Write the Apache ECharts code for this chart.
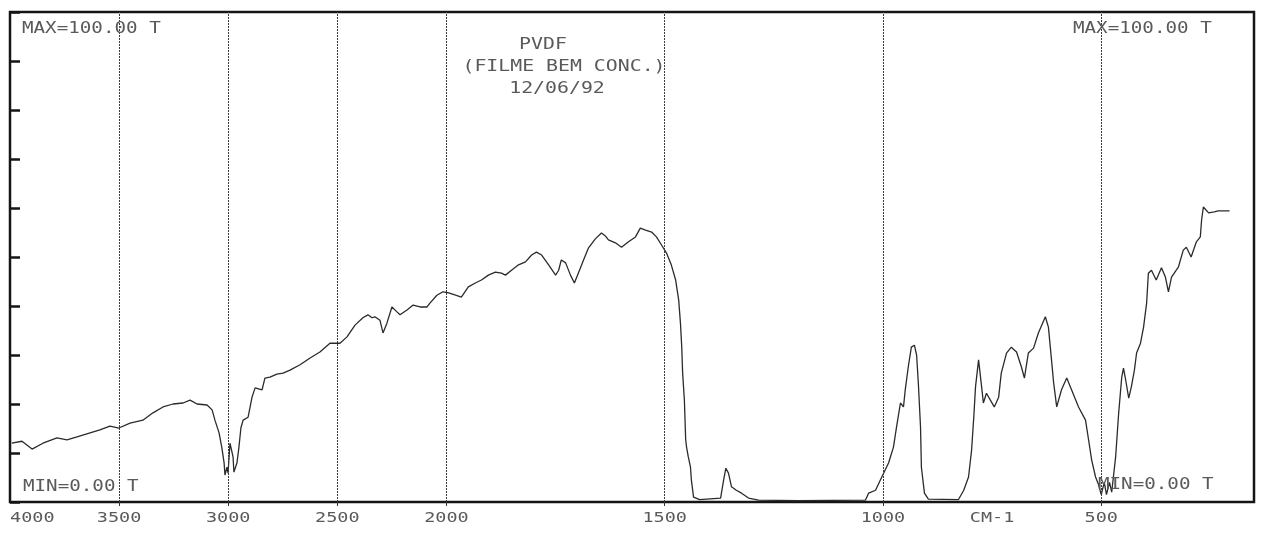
<!DOCTYPE html>
<html>
<head>
<meta charset="utf-8">
<script src="https://cdn.jsdelivr.net/npm/echarts@6/dist/echarts.min.js"></script>
<style>
  html, body { margin: 0; padding: 0; background: #fff; }
  #chart { width: 1261px; height: 535px; }
</style>
</head>
<body>
<div id="chart"></div>
<script>
// PVDF film, IR transmission spectrum (%T against wavenumber, cm-1)
const wavenumbers = [
  3992, 3986, 3945, 3899, 3849, 3785, 3739, 3693, 3633, 3588, 3542, 3501, 3450, 3391, 3345, 3299,
  3253, 3207, 3175, 3143, 3097, 3074, 3061, 3042, 3029, 3019, 3015, 3006, 3001, 2992, 2978, 2974,
  2960, 2951, 2942, 2932, 2909, 2891, 2877, 2845, 2832, 2809, 2777, 2749, 2717, 2671, 2625, 2580,
  2534, 2488, 2456, 2419, 2383, 2360, 2341, 2328, 2305, 2291, 2273, 2250, 2227, 2213, 2181, 2153,
  2121, 2089, 2076, 2044, 2016, 1995, 1979, 1966, 1950, 1934, 1920, 1904, 1888, 1874, 1865, 1851,
  1835, 1819, 1805, 1794, 1782, 1766, 1750, 1743, 1737, 1727, 1716, 1707, 1698, 1686, 1675, 1659,
  1645, 1636, 1629, 1613, 1599, 1583, 1567, 1556, 1544, 1530, 1519, 1507, 1496, 1485, 1475, 1468,
  1464, 1461, 1459, 1455, 1452, 1450, 1446, 1441, 1439, 1434, 1420, 1372, 1365, 1360, 1354, 1347,
  1336, 1324, 1308, 1285, 1194, 1040, 1033, 1017, 1006, 987, 976, 969, 960, 953, 949, 942,
  935, 928, 923, 919, 914, 912, 905, 896, 827, 815, 804, 797, 792, 788, 781, 774,
  770, 763, 754, 745, 735, 729, 717, 706, 694, 683, 676, 667, 655, 644, 628, 621,
  616, 609, 602, 591, 579, 568, 552, 536, 529, 522, 513, 506, 500, 493, 488, 481,
  476, 467, 460, 453, 449, 444, 437, 431, 424, 419, 410, 403, 396, 392, 385, 374,
  362, 353, 346, 339, 323, 312, 305, 294, 282, 273, 270, 266, 254, 241, 232, 206
];
const transmittance = [
  12.0, 12.2, 12.4, 10.8, 12.0, 13.1, 12.7, 13.3, 14.1, 14.7, 15.5, 15.1, 16.1, 16.7, 18.2, 19.4,
  20.0, 20.2, 20.8, 20.0, 19.8, 18.8, 16.7, 14.1, 11.0, 8.0, 5.5, 7.1, 5.9, 12.0, 9.2, 6.1,
  8.0, 11.2, 15.1, 16.7, 17.3, 21.4, 23.3, 22.9, 25.3, 25.5, 26.1, 26.3, 26.9, 28.0, 29.4, 30.6,
  32.4, 32.4, 33.7, 36.1, 37.6, 38.2, 37.6, 37.8, 37.1, 34.5, 36.5, 39.8, 38.8, 38.2, 39.2, 40.2,
  39.8, 39.8, 40.6, 42.2, 42.9, 42.7, 42.2, 41.8, 43.9, 44.7, 45.3, 46.3, 46.9, 46.7, 46.3, 47.3,
  48.4, 49.0, 50.4, 51.0, 50.4, 48.4, 46.3, 47.3, 49.4, 48.8, 46.3, 44.7, 46.7, 49.4, 51.8, 53.7,
  54.9, 54.3, 53.5, 52.9, 52.0, 53.1, 54.1, 55.9, 55.5, 55.1, 54.1, 52.4, 50.8, 48.4, 45.3, 41.2,
  36.5, 31.6, 26.3, 20.8, 12.7, 11.2, 9.2, 7.1, 4.5, 1.0, 0.5, 0.8, 4.5, 6.9, 5.9, 3.1,
  2.4, 1.8, 0.8, 0.4, 0.3, 0.4, 1.8, 2.4, 4.5, 8.0, 11.2, 15.3, 20.2, 19.4, 22.9, 27.6,
  31.6, 32.0, 30.0, 24.3, 15.3, 7.1, 1.8, 0.6, 0.5, 2.4, 5.1, 10.6, 17.3, 23.5, 29.0, 23.5,
  20.2, 22.2, 20.8, 19.4, 21.4, 26.3, 30.4, 31.6, 30.6, 27.6, 25.3, 30.4, 31.4, 34.5, 37.8, 35.7,
  31.0, 24.3, 19.4, 22.9, 25.3, 22.9, 19.4, 16.7, 12.7, 8.6, 5.1, 3.5, 1.5, 4.0, 1.5, 4.0,
  2.0, 9.2, 18.2, 25.5, 27.3, 24.9, 21.2, 23.5, 26.9, 30.4, 32.4, 35.7, 40.6, 46.7, 47.3, 45.3,
  47.8, 45.9, 42.9, 45.9, 48.0, 51.4, 52.0, 50.0, 53.1, 54.1, 57.6, 60.2, 59.0, 59.2, 59.4, 59.4
];

// vertical chart lines and bottom tick labels
const gridWavenumbers = [3500, 3000, 2500, 2000, 1500, 1000, 500];
const tickValues = [4000, 3500, 3000, 2500, 2000, 1500, 1000, 750, 500];
const tickLabels = ['4000', '3500', '3000', '2500', '2000', '1500', '1000', 'CM-1', '500'];
const titleLines = ['PVDF', '(FILME BEM CONC.)', '12/06/92'];
const rangeLabels = { max: 'MAX=100.00 T', min: 'MIN=0.00 T' };
const xStart = 4000, xEnd = 150;

// The chart paper halves its scale above 2000 cm-1: map a wavenumber onto a
// linear axis coordinate (1 unit = 1 cm-1 below 2000, 2 cm-1 above).
function toAxis(wn) {
  return wn >= 2000 ? (4000 - wn) / 2 : 1000 + (2000 - wn);
}

const seriesData = wavenumbers.map((wn, i) => [toAxis(wn), transmittance[i]]);

const FONT = '"DejaVu Sans Mono", "Liberation Mono", monospace';
const TEXT_COLOR = '#5a5a5a';

const chart = echarts.init(document.getElementById('chart'), null, { renderer: 'canvas' });

chart.setOption({
  animation: false,
  backgroundColor: '#ffffff',
  grid: {
    left: 10, right: 7, top: 12, bottom: 33,
    show: true,
    borderColor: '#151515',
    borderWidth: 2.5,
    backgroundColor: 'transparent'
  },
  xAxis: {
    type: 'value',
    min: toAxis(xStart),
    max: toAxis(xEnd),
    axisLine: { show: false },
    splitLine: { show: false },
    axisTick: {
      show: true,
      inside: false,
      length: 4,
      customValues: gridWavenumbers.map(toAxis),
      lineStyle: { color: '#333', width: 1 }
    },
    axisLabel: { show: false }
  },
  yAxis: {
    type: 'value',
    min: 0, max: 100, interval: 10,
    axisLine: { show: false },
    splitLine: { show: false },
    axisTick: {
      show: true,
      inside: true,
      length: 10,
      lineStyle: { color: '#151515', width: 2.5 }
    },
    axisLabel: { show: false }
  },
  series: [{
    type: 'line',
    data: seriesData,
    showSymbol: false,
    smooth: false,
    lineStyle: { color: '#2b2b2b', width: 1.3 },
    z: 3,
    markLine: {
      silent: true,
      symbol: 'none',
      label: { show: false },
      lineStyle: { color: '#3a3a3a', width: 1, type: [2, 1] },
      data: gridWavenumbers.map(wn => ({ xAxis: toAxis(wn) }))
    }
  }]
});

// Printed annotations: wide dot-matrix lettering, stretched horizontally
function label(text, x, y, align, sx, size) {
  return {
    type: 'text',
    x: x, y: y,
    scaleX: sx,
    silent: true,
    z: 10,
    style: {
      text: text,
      font: size + 'px ' + FONT,
      fill: TEXT_COLOR,
      textAlign: align,
      textVerticalAlign: 'middle',
      verticalAlign: 'middle'
    }
  };
}

const elements = [];
const baseY = chart.convertToPixel({ gridIndex: 0 }, [0, 0])[1];
tickValues.forEach((wn, i) => {
  const px = chart.convertToPixel({ gridIndex: 0 }, [toAxis(wn), 0])[0];
  const first = i === 0;
  elements.push(label(tickLabels[i], first ? px : px, baseY + 16, first ? 'left' : 'center', 1.32, 14));
});

const titleCenters = [543, 564, 557];
const titleRows = [45, 67, 89];
titleLines.forEach((t, i) => elements.push(label(t, titleCenters[i], titleRows[i], 'center', 1.24, 16)));

elements.push(label(rangeLabels.max, 22, 29, 'left', 1.2, 16));
elements.push(label(rangeLabels.min, 23, 487, 'left', 1.2, 16));
elements.push(label(rangeLabels.max, 1073, 29, 'left', 1.2, 16));
elements.push(label(rangeLabels.min, 1098, 485, 'left', 1.2, 16));

chart.setOption({ graphic: { elements: elements } });
</script>
</body>
</html>
